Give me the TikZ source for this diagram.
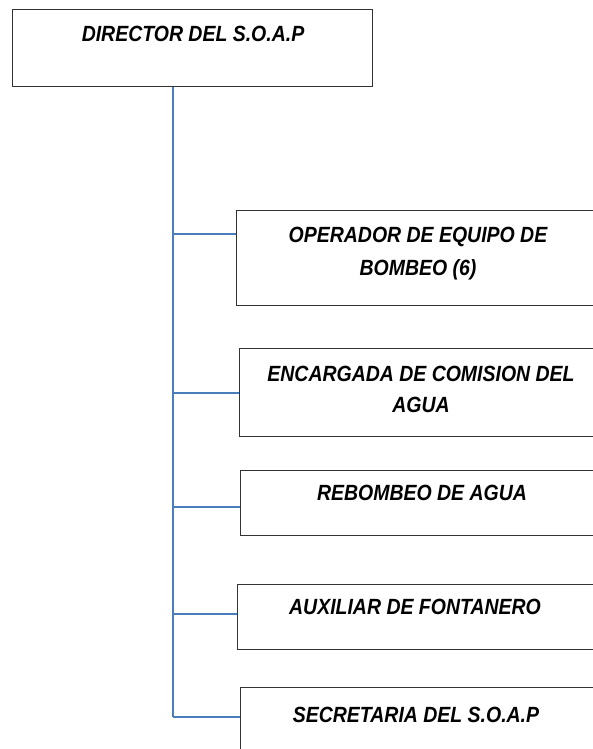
\documentclass[tikz,border=0pt]{standalone}
\usepackage{fontspec}
\newfontfamily\narrowf{Liberation Sans}[FakeStretch=0.885]
\definecolor{connblue}{HTML}{4A7EBB}
\definecolor{boxline}{HTML}{333333}
\begin{document}
\begin{tikzpicture}[x=1pt,y=-1pt,
  orgbox/.style={draw=boxline,line width=1pt,fill=none,anchor=north west,inner sep=0pt},
  lbl/.style={font=\narrowf\bfseries\itshape\fontsize{22}{32}\selectfont,align=center,anchor=base,inner sep=0pt},
  conn/.style={draw=connblue,line width=1.4pt}]
\useasboundingbox (0,0) rectangle (593,749);
\clip (0,0) rectangle (593,749);
\node[orgbox,minimum width=360pt,minimum height=77pt] (dir) at (12,9) {};
\node[orgbox,minimum width=365pt,minimum height=95pt] (b1) at (236,210) {};
\node[orgbox,minimum width=362pt,minimum height=88pt] (b2) at (239,348) {};
\node[orgbox,minimum width=361pt,minimum height=65pt] (b3) at (240,470) {};
\node[orgbox,minimum width=364pt,minimum height=65pt] (b4) at (237,584) {};
\node[orgbox,minimum width=361pt,minimum height=100pt] (b5) at (240,687) {};
\node[lbl] (tdir) at (193,42) {DIRECTOR DEL S.O.A.P};
\node[lbl] (t1) at (418,275) {OPERADOR DE EQUIPO DE\\[1pt]BOMBEO (6)};
\node[lbl] (t2) at (421,412) {ENCARGADA DE COMISION DEL\\[-1pt]AGUA};
\node[lbl] (t3) at (422,500) {REBOMBEO DE AGUA};
\node[lbl] (t4) at (415,614) {AUXILIAR DE FONTANERO};
\node[lbl] (t5) at (416,722) {SECRETARIA DEL S.O.A.P};
\coordinate (sx) at (173,0);
\coordinate (c1) at (236,234);
\coordinate (c2) at (239,393);
\coordinate (c3) at (240,507);
\coordinate (c4) at (237,614);
\coordinate (c5) at (240,717);
\draw[conn] (dir.south -| sx) -- (c5 -| sx);
\foreach \c in {c1,c2,c3,c4,c5}{\draw[conn] (\c -| sx) -- (\c);}
\end{tikzpicture}
\end{document}
